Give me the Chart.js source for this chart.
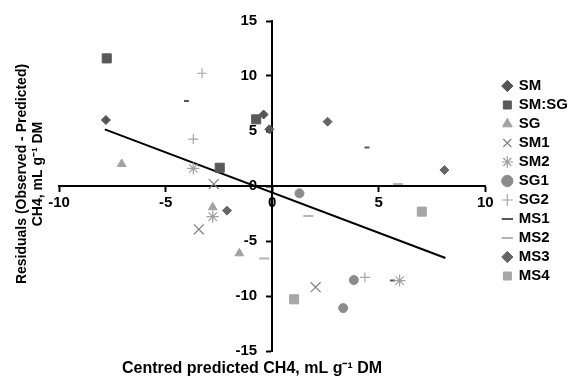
<!DOCTYPE html>
<html>
<head>
<meta charset="utf-8">
<script src="https://cdn.jsdelivr.net/npm/chart.js@4.4.1/dist/chart.umd.min.js"></script>
<style>
  html, body { margin: 0; padding: 0; background: #fff; }
  #wrap { width: 570px; height: 377px; }
</style>
</head>
<body>
<div id="wrap"><canvas id="chart" width="570" height="377"></canvas></div>
<script>
// [centred predicted, residual] pairs
const SM    = [[-7.8, 6.0], [-0.4, 6.5], [-0.13, 5.15]];
const SM_SG = [[-7.76, 11.6], [-2.46, 1.66], [-0.75, 6.06]];
const SG    = [[-7.06, 2.0], [-2.79, -1.94], [-1.54, -6.12]];
const SM1   = [[-2.74, 0.18], [-3.44, -3.94], [2.04, -9.2]];
const SM2   = [[-3.7, 1.6], [-2.79, -2.79], [5.98, -8.6]];
const SG1   = [[1.28, -0.67], [3.83, -8.55], [3.33, -11.1]];
const SG2   = [[-3.29, 10.25], [-3.7, 4.27], [4.35, -8.3]];
const MS1   = [[-4.02, 7.73], [4.45, 3.5], [5.64, -8.6]];
const MS2   = [[5.9, 0.18], [1.7, -2.73], [-0.37, -6.58]];
const MS3   = [[2.6, 5.85], [8.08, 1.45], [-2.12, -2.24]];
const MS4   = [[7.02, -2.33], [1.03, -10.3]];

// fitted line end points
const trendX = [-7.85, 8.13];
const trendY = [5.15, -6.55];

const xTicks = [-10, -5, 0, 5, 10];
const yTicks = [-15, -10, -5, 0, 5, 10, 15];

const FONT = 'Liberation Sans, Arial, sans-serif';

const toPts = arr => arr.map(p => ({x: p[0], y: p[1]}));

function series(label, data, style, color, radius, width) {
  return {
    label: label,
    data: toPts(data),
    pointStyle: style,
    pointRadius: radius,
    pointHoverRadius: radius,
    backgroundColor: color,
    borderColor: color,
    pointBorderWidth: width || 1,
    borderWidth: width || 1
  };
}

// axis titles + nudge legend a bit away from the plot
const axisTitles = {
  id: 'axisTitles',
  afterLayout(chart) {
    const lg = chart.legend;
    lg.left += 14; lg.right += 14;
    lg.top -= 5; lg.bottom -= 5;
  },
  afterDraw(chart) {
    const ctx = chart.ctx;
    ctx.save();
    ctx.fillStyle = '#000';
    ctx.textAlign = 'center';
    ctx.textBaseline = 'middle';
    ctx.font = 'bold 16px ' + FONT;
    ctx.fillText('Centred predicted CH4, mL g\u207B\u00B9 DM', 252, 369);
    ctx.font = 'bold 14px ' + FONT;
    ctx.translate(22, 174);
    ctx.rotate(-Math.PI / 2);
    ctx.fillText('Residuals (Observed - Predicted)', 0, 0);
    ctx.fillText('CH4, mL g\u207B\u00B9 DM', 0, 16);
    ctx.restore();
  }
};

new Chart(document.getElementById('chart'), {
  type: 'scatter',
  data: {
    datasets: [
      series('SM', SM, 'rectRot', '#555555', 4.5),
      series('SM:SG', SM_SG, 'rect', '#595959', 6.4),
      series('SG', SG, 'triangle', '#a3a3a3', 5),
      series('SM1', SM1, 'crossRot', '#808080', 7, 1.2),
      series('SM2', SM2, 'star', '#a0a0a0', 6, 1.2),
      series('SG1', SG1, 'circle', '#8c8c8c', 4.5),
      series('SG2', SG2, 'cross', '#a6a6a6', 5, 1.2),
      series('MS1', MS1, 'line', '#595959', 2.5, 2),
      series('MS2', MS2, 'line', '#b3b3b3', 5, 2),
      series('MS3', MS3, 'rectRot', '#666666', 4.5),
      series('MS4', MS4, 'rect', '#a6a6a6', 6.4),
      {
        label: 'trend',
        type: 'line',
        data: trendX.map((x, i) => ({x: x, y: trendY[i]})),
        borderColor: '#000',
        borderWidth: 2,
        pointRadius: 0,
        showLine: true,
        fill: false
      }
    ]
  },
  options: {
    responsive: false,
    animation: false,
    layout: { padding: { left: 59, top: 21, bottom: 26, right: 6 } },
    plugins: {
      tooltip: { enabled: false },
      legend: {
        position: 'right',
        labels: {
          filter: item => item.text !== 'trend',
          usePointStyle: true,
          boxWidth: 8,
          boxHeight: 8,
          padding: 4,
          color: '#000',
          font: { family: FONT, size: 15, weight: 'bold' }
        }
      }
    },
    scales: {
      x: {
        type: 'linear',
        min: -10,
        max: 10,
        position: { y: 0 },
        afterBuildTicks: axis => { axis.ticks = xTicks.map(v => ({value: v})); },
        grid: { drawOnChartArea: false, drawTicks: true, tickLength: 5, tickColor: '#000', tickWidth: 2 },
        border: { color: '#000', width: 2 },
        ticks: { padding: 3, color: '#000', font: { family: FONT, size: 15, weight: 'bold' } }
      },
      y: {
        type: 'linear',
        min: -15,
        max: 15,
        position: { x: 0 },
        afterBuildTicks: axis => { axis.ticks = yTicks.map(v => ({value: v})); },
        grid: { drawOnChartArea: false, drawTicks: true, tickLength: 5, tickColor: '#000', tickWidth: 2 },
        border: { color: '#000', width: 2 },
        // labels sit right-aligned on the axis line, so pad them with an em space
        ticks: { color: '#000', font: { family: FONT, size: 15, weight: 'bold' },
                 callback: v => v + '\u2003' }
      }
    }
  },
  plugins: [axisTitles]
});
</script>
</body>
</html>
